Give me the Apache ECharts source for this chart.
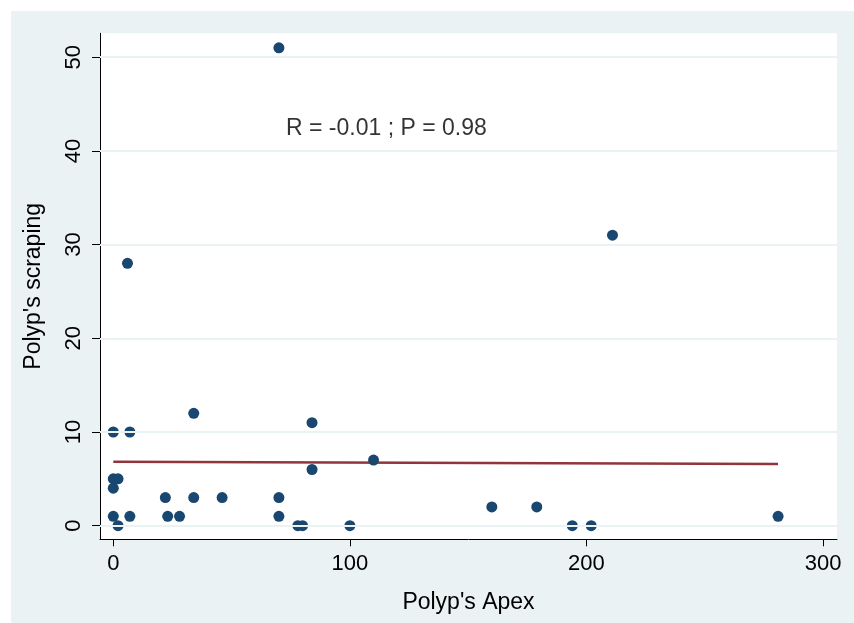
<!DOCTYPE html>
<html>
<head>
<meta charset="utf-8">
<script src="https://cdn.jsdelivr.net/npm/echarts@6/dist/echarts.min.js"></script>
<style>
html,body{margin:0;padding:0;background:#ffffff;}
#chart{width:854px;height:623px;}
</style>
</head>
<body>
<div id="chart"></div>
<script>
// Data
var apex =     [0, 7, 34, 0, 2, 0, 22, 34, 46, 70, 0, 7, 23, 28, 70, 2, 78, 80, 84, 84, 110, 100, 160, 179, 194, 202, 281, 211, 70, 6];
var scraping = [10, 10, 12, 5, 5, 4, 3, 3, 3, 3, 1, 1, 1, 1, 1, 0, 0, 0, 11, 6, 7, 0, 2, 2, 0, 0, 1, 31, 51, 28];
var fitX = [0, 281];
var fitY = [6.83, 6.58];
var xTicks = [0, 100, 200, 300];
var yTicks = [0, 10, 20, 30, 40, 50];
var annotationText = 'R = -0.01 ; P = 0.98';
var annotationPos = [73, 42.37];
var xTitle = "Polyp's Apex";
var yTitle = "Polyp's scraping";

var points = apex.map(function (x, i) { return [x, scraping[i]]; });
var fit = fitX.map(function (x, i) { return [x, fitY[i]]; });

var FONT = 'Liberation Sans, Arial, sans-serif';
var chart = echarts.init(document.getElementById('chart'), null, {renderer: 'canvas'});
chart.setOption({
  animation: false,
  backgroundColor: '#ffffff',
  graphic: [{
    type: 'rect', z: -10, silent: true,
    shape: {x: 11, y: 11, width: 843, height: 612},
    style: {fill: '#eaf2f3'}
  }],
  grid: {left: 100, top: 33.3, right: 17, bottom: 83.7, show: true, backgroundColor: '#ffffff', borderWidth: 0, containLabel: false},
  xAxis: {
    type: 'value', min: -5.62, max: 305.9,
    name: xTitle, nameLocation: 'middle', nameGap: 52,
    nameTextStyle: {fontFamily: FONT, fontSize: 23, color: '#000'},
    axisLine: {show: true, onZero: false, lineStyle: {color: '#000', width: 1}},
    axisTick: {show: true, customValues: xTicks, length: 7, lineStyle: {color: '#000'}},
    axisLabel: {show: true, customValues: xTicks, margin: 14, fontFamily: FONT, fontSize: 22, color: '#000'},
    splitLine: {show: false}
  },
  yAxis: {
    type: 'value', min: -1.45, max: 52.55,
    name: yTitle, nameLocation: 'middle', nameGap: 55, nameRotate: 90,
    nameTextStyle: {fontFamily: FONT, fontSize: 23, color: '#000'},
    axisLine: {show: true, onZero: false, lineStyle: {color: '#000', width: 1}},
    axisTick: {show: true, customValues: yTicks, length: 8, lineStyle: {color: '#000'}},
    axisLabel: {show: true, customValues: yTicks, rotate: 90, margin: 15, fontFamily: FONT, fontSize: 22, color: '#000'},
    splitLine: {show: false}
  },
  series: [
    {
      type: 'line', data: [], z: 1, silent: true,
      markLine: {
        silent: true, symbol: ['none', 'none'], animation: false,
        label: {show: false},
        lineStyle: {color: '#eaf2f3', width: 2, type: 'solid'},
        data: yTicks.map(function (v) { return {yAxis: v}; })
      }
    },
    {
      type: 'line', data: fit, z: 2, symbol: 'none', silent: true,
      lineStyle: {color: '#90353b', width: 2.6}
    },
    {
      type: 'scatter', data: points, z: 3, symbol: 'circle', symbolSize: 11,
      itemStyle: {color: '#1a476f', opacity: 1}
    },
    {
      type: 'scatter', data: [annotationPos], z: 4, symbolSize: 0, silent: true,
      label: {show: true, position: 'right', distance: 0, formatter: annotationText,
        fontFamily: FONT, fontSize: 23, color: '#000'}
    }
  ]
});
</script>
</body>
</html>
